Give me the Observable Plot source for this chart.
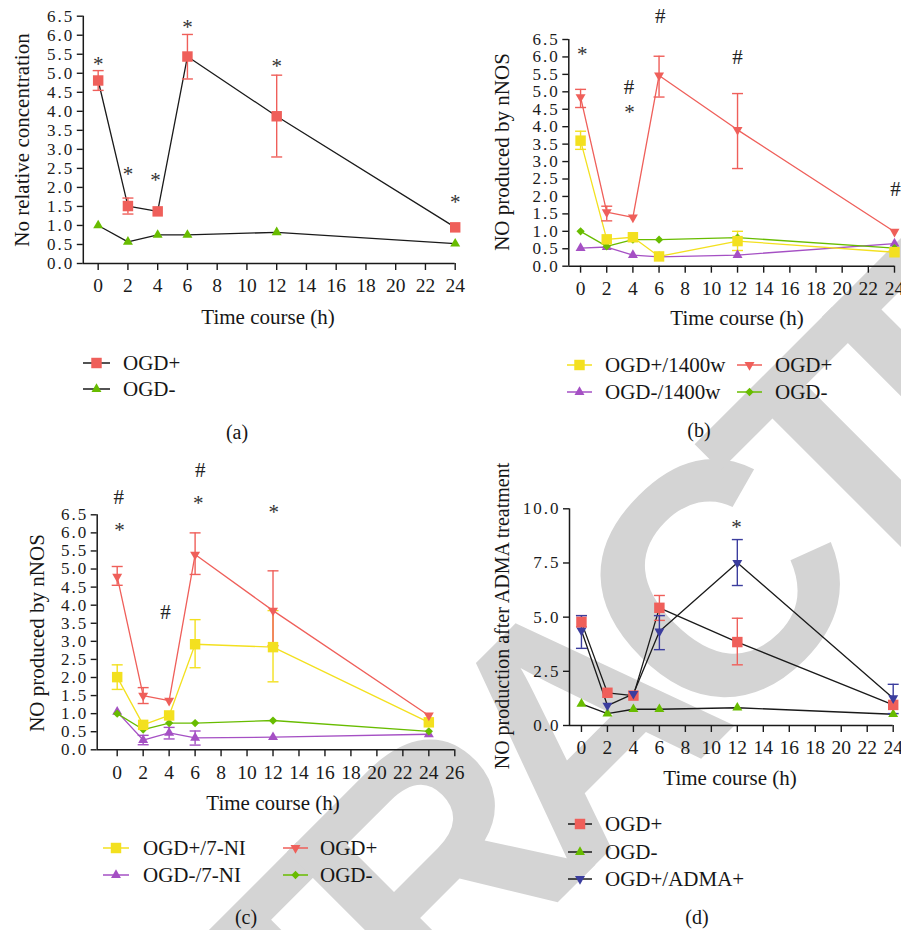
<!DOCTYPE html>
<html><head><meta charset="utf-8">
<script src="https://cdn.jsdelivr.net/npm/d3@7"></script>
<script src="https://cdn.jsdelivr.net/npm/@observablehq/plot@0.6"></script>
<style>
html,body{margin:0;padding:0;background:#fff;}
#page{position:relative;width:901px;height:930px;overflow:hidden;font-family:"Liberation Serif",serif;color:#161616;}
#page > svg{position:absolute;}
svg.pnl g[aria-label="y-axis tick label"] text{letter-spacing:2px;}
</style></head><body><div id="page"></div>
<script>
// ---------------- data ----------------
const times = [0, 2, 4, 6, 12, 24];

// panel (a)
const a_ogdPlus    = [4.81, 1.51, 1.37, 5.44, 3.87, 0.95];
const a_ogdPlusLo  = [4.55, 1.30, null, 4.85, 2.80, null];
const a_ogdPlusHi  = [5.07, 1.72, null, 6.02, 4.95, null];
const a_ogdMinus   = [1.00, 0.57, 0.75, 0.75, 0.82, 0.52];
const a_notes = [
  {x: 0, y: 5.33, t: "*"}, {x: 2, y: 2.44, t: "*"}, {x: 3.85, y: 2.30, t: "*"},
  {x: 6, y: 6.32, t: "*"}, {x: 12, y: 5.29, t: "*"}, {x: 24, y: 1.72, t: "*"}
];

// panel (b)
const b_ogdPlus     = [4.85, 1.55, 1.40, 5.47, 3.91, 0.99];
const b_ogdPlusLo   = [4.55, 1.30, null, 4.85, 2.80, null];
const b_ogdPlusHi   = [5.07, 1.72, null, 6.02, 4.95, null];
const b_w1400Plus   = [3.60, 0.77, 0.83, 0.28, 0.72, 0.40];
const b_w1400PlusLo = [3.35, null, null, null, 0.45, null];
const b_w1400PlusHi = [3.87, null, null, null, 1.00, null];
const b_w1400Minus  = [0.52, 0.55, 0.32, 0.27, 0.32, 0.65];
const b_ogdMinus    = [1.00, 0.57, 0.76, 0.76, 0.82, 0.52];
const b_notes = [
  {x: 0.13, y: 6.19, t: "*"}, {x: 3.7, y: 5.13, t: "#"}, {x: 3.75, y: 4.54, t: "*"},
  {x: 6.1, y: 7.16, t: "#"}, {x: 12, y: 5.98, t: "#"}, {x: 24.08, y: 2.22, t: "#"}
];

// panel (c)
const c_ogdPlus    = [4.79, 1.50, 1.36, 5.40, 3.85, 0.95];
const c_ogdPlusLo  = [4.55, 1.28, null, 4.85, 2.88, null];
const c_ogdPlusHi  = [5.07, 1.72, null, 6.00, 4.95, null];
const c_ni7Plus    = [2.01, 0.69, 0.95, 2.92, 2.84, 0.76];
const c_ni7PlusLo  = [1.67, null, null, 2.27, 1.88, null];
const c_ni7PlusHi  = [2.35, null, null, 3.60, 3.85, null];
const c_ni7Minus   = [1.05, 0.27, 0.47, 0.33, 0.35, 0.43];
const c_ni7MinusLo = [null, 0.14, 0.30, 0.13, null, null];
const c_ni7MinusHi = [null, 0.40, 0.62, 0.52, null, null];
const c_ogdMinus   = [1.00, 0.56, 0.74, 0.74, 0.81, 0.51];
const c_notes = [
  {x: 0.12, y: 6.99, t: "#"}, {x: 0.18, y: 6.19, t: "*"}, {x: 3.72, y: 3.81, t: "#"},
  {x: 6.4, y: 7.73, t: "#"}, {x: 6.24, y: 6.92, t: "*"}, {x: 12.06, y: 6.68, t: "*"}
];

// panel (d)
const d_ogdPlus   = [4.77, 1.51, 1.38, 5.43, 3.85, 0.95];
const d_ogdPlusLo = [4.55, null, null, 4.85, 2.80, null];
const d_ogdPlusHi = [5.07, null, null, 6.00, 4.95, null];
const d_ogdMinus  = [1.00, 0.55, 0.75, 0.75, 0.82, 0.52];
const d_adma      = [4.38, 0.92, 1.46, 4.34, 7.51, 1.26];
const d_admaLo    = [3.56, null, null, 3.50, 6.46, 0.55];
const d_admaHi    = [5.07, null, null, 5.07, 8.58, 1.90];
const d_notes = [{x: 11.93, y: 9.34, t: "*"}];

// tick labels
const yTicks65 = d3.range(0, 6.51, 0.5);
const yTicks10 = [0, 2.5, 5, 7.5, 10];
const xTicks24 = d3.range(0, 25, 2);
const xTicks26 = d3.range(0, 27, 2);

// ---------------- styling ----------------
const RED = "#EF5F5A", GREEN = "#68BC00", YELLOW = "#F3E01F", PURPLE = "#A550C4", BLUE = "#3B3D9E", BLACK = "#1a1a1a";
const S3 = Math.sqrt(3);
const triDown = { draw(ctx, size) { const y = -Math.sqrt(size / (S3 * 3)); ctx.moveTo(0, -y * 2); ctx.lineTo(S3 * y, y); ctx.lineTo(-S3 * y, y); ctx.closePath(); } };
const triUp = { draw(ctx, size) { const y = -Math.sqrt(size / (S3 * 3)); ctx.moveTo(0, y * 2); ctx.lineTo(-S3 * y, -y); ctx.lineTo(S3 * y, -y); ctx.closePath(); } };
const square = { draw(ctx, size) { const w = Math.sqrt(size) / 2; ctx.rect(-w, -w, 2 * w, 2 * w); } };
const diamond = { draw(ctx, size) { const w = Math.sqrt(size / 2); ctx.moveTo(0, -w); ctx.lineTo(w, 0); ctx.lineTo(0, w); ctx.lineTo(-w, 0); ctx.closePath(); } };
const cap = { draw(ctx, size) { const w = Math.sqrt(size) / 2; ctx.moveTo(-w, 0); ctx.lineTo(w, 0); } };
const R = {sq: 5.9, tri: 3.7, dia: 3.3};

function rows(v, lo, hi) { return times.map((t, i) => ({t, v: v[i], lo: lo ? lo[i] : null, hi: hi ? hi[i] : null})); }

const page = d3.select("#page");

// watermark (behind everything)
const wm = page.append("svg").attr("width", 901).attr("height", 930).style("left", "0px").style("top", "0px");
wm.append("path").attr("d", "M0,0").attr("fill", "none");
wm.append("text").attr("transform", "translate(50,1410) rotate(-45)")
  .attr("font-family", "Liberation Sans, Arial, sans-serif").attr("font-weight", "bold")
  .attr("font-size", 330).attr("letter-spacing", -40).attr("fill", "#d4d4d4").text("RETRACTED");

function panel(cfg) {
  const {left, top, width, height, x0, x1, xEnd, xPx0, xPx1, yMax, yPx0, yPxMax, yTicks, xTicks, series, notes} = cfg;
  const marks = [
    Plot.ruleX([x0], {y1: 0, y2: yMax, stroke: BLACK, strokeWidth: 1.5}),
    Plot.ruleY([0], {x1: x0, x2: xEnd, stroke: BLACK, strokeWidth: 1.5}),
    Plot.axisY({ticks: yTicks, tickFormat: d3.format(".1f"), tickSize: 6, tickPadding: 3, fontSize: 17, label: null, strokeWidth: 1.4}),
    Plot.axisX({ticks: xTicks, tickFormat: d3.format("d"), tickSize: 7, tickPadding: 8, fontSize: 19.5, label: null, strokeWidth: 1.4})
  ];
  for (const s of series) {
    const data = rows(s.v, s.lo, s.hi);
    const err = data.filter(d => d.lo != null);
    marks.push(Plot.line(data, {x: "t", y: "v", stroke: s.line, strokeWidth: 1.3}));
    if (err.length) {
      marks.push(Plot.ruleX(err, {x: "t", y1: "lo", y2: "hi", stroke: s.color, strokeWidth: 1.4}));
      marks.push(Plot.dot(err, {x: "t", y: "lo", symbol: cap, r: 6.2, stroke: s.color, fill: "none", strokeWidth: 1.4}));
      marks.push(Plot.dot(err, {x: "t", y: "hi", symbol: cap, r: 6.2, stroke: s.color, fill: "none", strokeWidth: 1.4}));
    }
  }
  for (const s of series) {
    marks.push(Plot.dot(rows(s.v), {x: "t", y: "v", symbol: s.sym, r: s.r, fill: s.color, stroke: "none"}));
  }
  marks.push(Plot.text(notes.filter(n => n.t === "*"), {x: "x", y: "y", text: "t", fontSize: 21, dy: 4, fill: "#333"}));
  marks.push(Plot.text(notes.filter(n => n.t === "#"), {x: "x", y: "y", text: "t", fontSize: 21, fill: "#222"}));
  const svg = Plot.plot({
    width, height,
    marginLeft: xPx0 - left, marginRight: left + width - xPx1,
    marginTop: yPxMax - top, marginBottom: top + height - yPx0,
    x: {domain: [x0, x1]}, y: {domain: [0, yMax]},
    className: "pnl",
    style: {background: "transparent", fontFamily: "Liberation Serif, serif", color: BLACK},
    marks
  });
  svg.classList.add("pnl");
  svg.style.position = "absolute";
  svg.style.left = left + "px";
  svg.style.top = top + "px";
  page.node().appendChild(svg);
}

panel({left: 0, top: 0, width: 470, height: 300, x0: -1, x1: 24, xEnd: 24, xPx0: 82.8, xPx1: 454.7,
  yMax: 6.5, yPx0: 263, yPxMax: 15.7, yTicks: yTicks65, xTicks: xTicks24, notes: a_notes,
  series: [
    {v: a_ogdMinus, color: GREEN, line: BLACK, sym: triUp, r: R.tri},
    {v: a_ogdPlus, lo: a_ogdPlusLo, hi: a_ogdPlusHi, color: RED, line: BLACK, sym: square, r: R.sq}
  ]});

panel({left: 470, top: 0, width: 431, height: 300, x0: -0.9, x1: 24, xEnd: 24, xPx0: 568.3, xPx1: 894,
  yMax: 6.5, yPx0: 265.7, yPxMax: 39, yTicks: yTicks65, xTicks: xTicks24, notes: b_notes,
  series: [
    {v: b_w1400Minus, color: PURPLE, line: PURPLE, sym: triUp, r: R.tri},
    {v: b_ogdMinus, color: GREEN, line: GREEN, sym: diamond, r: R.dia},
    {v: b_w1400Plus, lo: b_w1400PlusLo, hi: b_w1400PlusHi, color: YELLOW, line: YELLOW, sym: square, r: R.sq},
    {v: b_ogdPlus, lo: b_ogdPlusLo, hi: b_ogdPlusHi, color: RED, line: RED, sym: triDown, r: R.tri}
  ]});

panel({left: 0, top: 445, width: 470, height: 395, x0: -1.54, x1: 26, xEnd: 26, xPx0: 96.7, xPx1: 454.3,
  yMax: 6.5, yPx0: 749.3, yPxMax: 514.3, yTicks: yTicks65, xTicks: xTicks26, notes: c_notes,
  series: [
    {v: c_ni7Minus, lo: c_ni7MinusLo, hi: c_ni7MinusHi, color: PURPLE, line: PURPLE, sym: triUp, r: R.tri},
    {v: c_ogdMinus, color: GREEN, line: GREEN, sym: diamond, r: R.dia},
    {v: c_ni7Plus, lo: c_ni7PlusLo, hi: c_ni7PlusHi, color: YELLOW, line: YELLOW, sym: square, r: R.sq},
    {v: c_ogdPlus, lo: c_ogdPlusLo, hi: c_ogdPlusHi, color: RED, line: RED, sym: triDown, r: R.tri}
  ]});

panel({left: 470, top: 450, width: 431, height: 350, x0: -0.92, x1: 24, xEnd: 24, xPx0: 569, xPx1: 892.7,
  yMax: 10, yPx0: 725, yPxMax: 508.3, yTicks: yTicks10, xTicks: xTicks24, notes: d_notes,
  series: [
    {v: d_ogdMinus, color: GREEN, line: BLACK, sym: triUp, r: R.tri},
    {v: d_ogdPlus, lo: d_ogdPlusLo, hi: d_ogdPlusHi, color: RED, line: BLACK, sym: square, r: R.sq},
    {v: d_adma, lo: d_admaLo, hi: d_admaHi, color: BLUE, line: BLACK, sym: triDown, r: R.tri}
  ]});

// ---------------- titles, legends, captions ----------------
const ov = page.append("svg").attr("width", 901).attr("height", 930).style("left", "0px").style("top", "0px")
  .attr("font-family", "Liberation Serif, serif").attr("fill", "#161616");

function label(x, y, txt, size, rot) {
  ov.append("text").attr("transform", `translate(${x},${y})` + (rot ? " rotate(-90)" : ""))
    .attr("text-anchor", "middle").attr("dominant-baseline", "central").attr("font-size", size).text(txt);
}
label(22, 140, "No relative concentration", 21, true);
label(268, 317, "Time course (h)", 21);
label(237, 432, "(a)", 20);
label(502, 152, "NO produced by nNOS", 21, true);
label(737, 318, "Time course (h)", 21);
label(699, 430, "(b)", 20);
label(37, 633, "NO produced by nNOS", 21, true);
label(273, 803, "Time course (h)", 21);
label(246, 917, "(c)", 20);
label(502, 616, "NO production after ADMA treatment", 20, true);
label(730, 778, "Time course (h)", 21);
label(697, 917, "(d)", 20);

function legendItem(x0, x1, y, tx, txt, line, color, sym, r) {
  ov.append("line").attr("x1", x0).attr("x2", x1).attr("y1", y).attr("y2", y).attr("stroke", line).attr("stroke-width", 1.5);
  ov.append("path").attr("transform", `translate(${(x0 + x1) / 2},${y})`)
    .attr("d", d3.symbol(sym, Math.PI * r * r)()).attr("fill", color);
  ov.append("text").attr("x", tx).attr("y", y).attr("dominant-baseline", "central").attr("font-size", 21).text(txt);
}
legendItem(83, 110, 363, 123, "OGD+", BLACK, RED, square, R.sq);
legendItem(83, 110, 389, 123, "OGD-", BLACK, GREEN, triUp, R.tri);

legendItem(567, 592, 365, 605, "OGD+/1400w", YELLOW, YELLOW, square, R.sq);
legendItem(567, 592, 392, 605, "OGD-/1400w", PURPLE, PURPLE, triUp, R.tri);
legendItem(737, 762, 365, 775, "OGD+", RED, RED, triDown, R.tri);
legendItem(737, 762, 392, 775, "OGD-", GREEN, GREEN, diamond, R.dia);

legendItem(103, 129, 848, 143, "OGD+/7-NI", YELLOW, YELLOW, square, R.sq);
legendItem(103, 129, 875, 143, "OGD-/7-NI", PURPLE, PURPLE, triUp, R.tri);
legendItem(283, 308, 848, 320, "OGD+", RED, RED, triDown, R.tri);
legendItem(283, 308, 875, 320, "OGD-", GREEN, GREEN, diamond, R.dia);

legendItem(568, 592, 824, 605, "OGD+", BLACK, RED, square, R.sq);
legendItem(568, 592, 852, 605, "OGD-", BLACK, GREEN, triUp, R.tri);
legendItem(568, 592, 879, 605, "OGD+/ADMA+", BLACK, BLUE, triDown, R.tri);
</script></body></html>
